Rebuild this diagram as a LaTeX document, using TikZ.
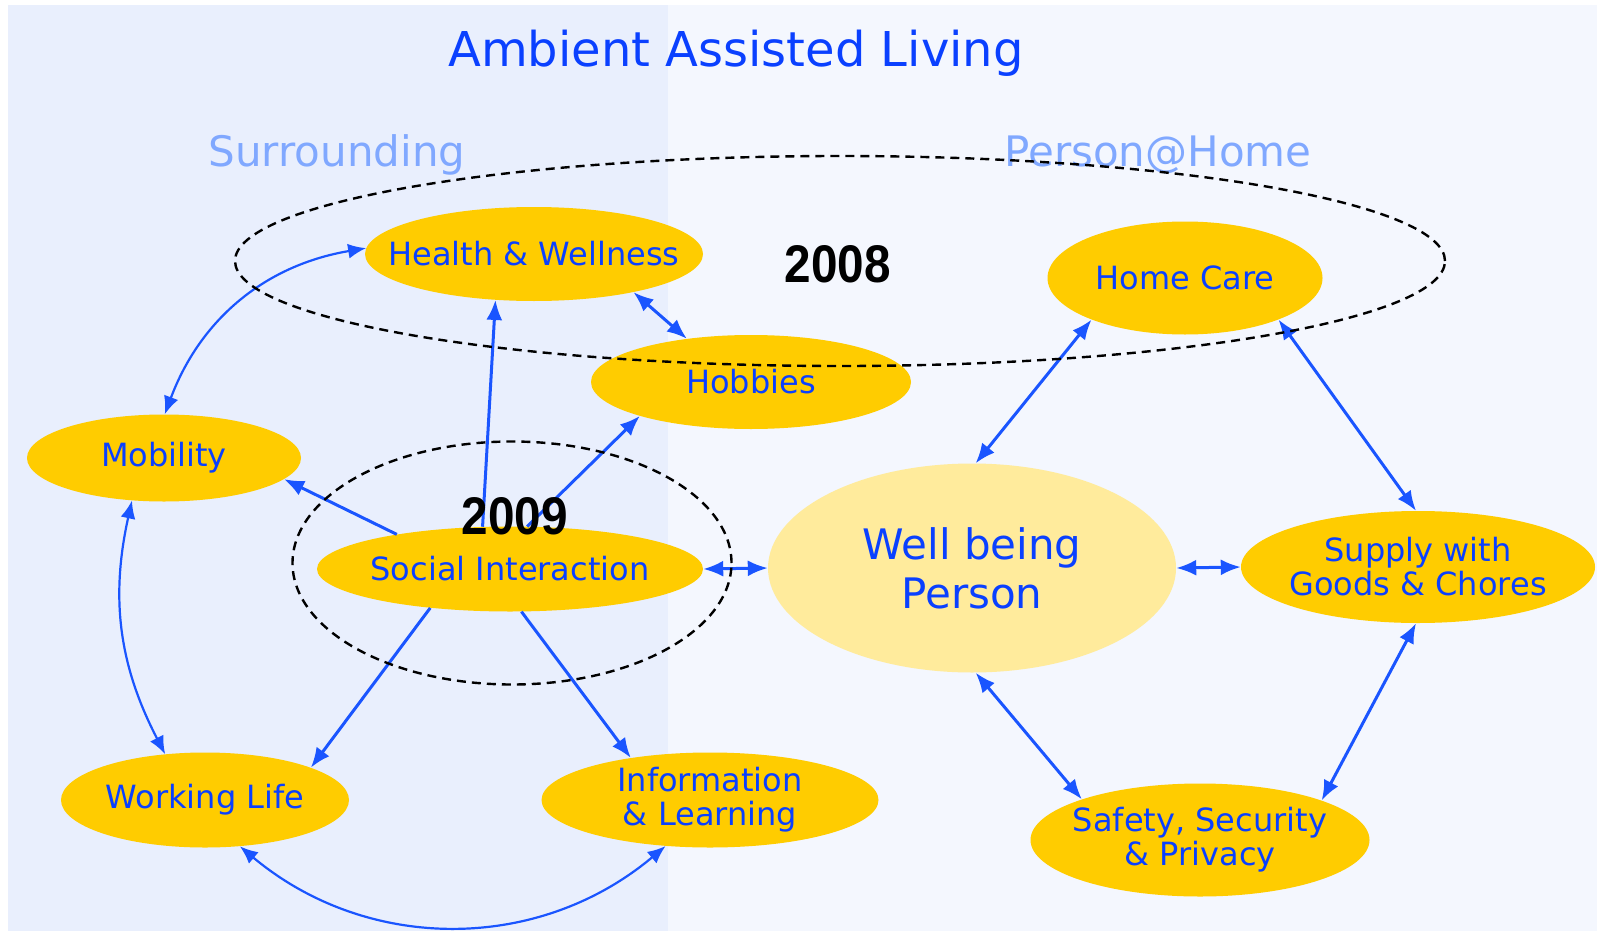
\documentclass[tikz,border=0pt]{standalone}
\usepackage{fontspec}
\setmainfont{DejaVu Sans}
\newfontfamily\yearfont{Liberation Sans}
\usetikzlibrary{shapes.geometric,arrows.meta}
\definecolor{leftbg}{HTML}{E9EFFD}
\definecolor{rightbg}{HTML}{F4F7FE}
\definecolor{nodeyellow}{HTML}{FFCC00}
\definecolor{lightyellow}{HTML}{FFEB9C}
\definecolor{textblue}{HTML}{0A40FF}
\definecolor{subblue}{HTML}{80A8FF}
\definecolor{arrowblue}{HTML}{1A55FF}
\begin{document}
\begin{tikzpicture}[x=1pt,y=-1pt,
  yel/.style={ellipse, fill=nodeyellow, draw=none, inner sep=0pt},
  txt/.style={text=textblue, font=\fontsize{32}{34}\selectfont, align=center, inner sep=0pt},
  conn/.style={draw=arrowblue, line width=3pt},
  both/.style={conn, {Latex[length=20pt,width=16pt]}-{Latex[length=20pt,width=16pt]}},
  one/.style={conn, -{Latex[length=20pt,width=16pt]}},
  curv/.style={draw=arrowblue, line width=2.2pt, {Latex[length=18pt,width=15pt]}-{Latex[length=18pt,width=15pt]}},
  dash08/.style={draw=black, line width=2.4pt, dash pattern=on 9pt off 6pt, ellipse, inner sep=0pt}
]
\useasboundingbox (0,0) rectangle (1597,931);
\fill[white] (0,0) rectangle (1597,931);
\fill[leftbg] (8,5) rectangle (668,931);
\fill[rightbg] (668,5) rectangle (1597,931);

% titles
\node[text=textblue, font=\fontsize{48}{56}\selectfont, anchor=base] (title) at (736,67) {Ambient Assisted Living};
\node[text=subblue, font=\fontsize{42}{50}\selectfont, anchor=base] (surr) at (337,166) {Surrounding};
\node[text=subblue, font=\fontsize{42}{50}\selectfont, anchor=base] (phome) at (1158,166) {Person@Home};

% nodes
\node[yel, minimum width=338pt, minimum height=94pt] (hw) at (534,254) {};
\node[yel, minimum width=320pt, minimum height=94pt] (hob) at (751,382) {};
\node[yel, minimum width=274pt, minimum height=87pt] (mob) at (164,458) {};
\node[yel, minimum width=386pt, minimum height=85pt] (si) at (510,569) {};
\node[yel, minimum width=288pt, minimum height=95pt] (wl) at (205,800) {};
\node[yel, minimum width=337pt, minimum height=95pt] (il) at (710,800) {};
\node[yel, minimum width=275pt, minimum height=113pt] (hc) at (1185,278) {};
\node[ellipse, fill=lightyellow, inner sep=0pt, minimum width=408pt, minimum height=209pt] (wb) at (972,568) {};
\node[yel, minimum width=354pt, minimum height=112pt] (sup) at (1418,567) {};
\node[yel, minimum width=339pt, minimum height=113pt] (saf) at (1200,840) {};

\node[txt] (hwt) at (hw) {Health \& Wellness};
\node[txt] (hobt) at (hob) {Hobbies};
\node[txt] (mobt) at (mob) {Mobility};
\node[txt] (sit) at (si) {Social Interaction};
\node[txt] (wlt) at (wl) {Working Life};
\node[txt] (ilt) at (il) {Information\\\& Learning};
\node[txt] (hct) at (hc) {Home Care};
\node[txt, font=\fontsize{42}{49}\selectfont] (wbt) at (wb) {Well being\\Person};
\node[txt] (supt) at (sup) {Supply with\\Goods \& Chores};
\node[txt] (saft) at (saf) {Safety, Security\\\& Privacy};

% connectors
\draw[curv] (mob.89) to[bend left=30] (hw.178);
\draw[curv] (mob.233) to[bend right=20] (wl.131);
\draw[curv] (wl.307) to[bend right=40] (il.226);
\draw[one] (si.163) -- (mob.350);
\draw[one] (si.123) -- (hw.230);
\draw[one] (si.68) -- (hob.197);
\draw[both] (hw.339) -- (hob.146);
\draw[one] (si.206) -- (wl.17);
\draw[one] (si.285) -- (il.152);
\draw[both] (si.east) -- (wb.west);
\draw[both] (wb.88) -- (hc.204);
\draw[both] (hc.336) -- (sup.92);
\draw[both] (wb.east) -- (sup.west);
\draw[both] (sup.268) -- (saf.18);
\draw[both] (wb.272) -- (saf.161);

% dashed groups
\node[dash08, minimum width=1210pt, minimum height=210pt] (g2008) at (840,261) {};
\node[dash08, minimum width=439pt, minimum height=243pt] (g2009) at (512,563) {};

\node[font=\yearfont\bfseries\fontsize{53}{60}\selectfont] (y2008) at (838,264) {\scalebox{0.9}[1]{2008}};
\node[font=\yearfont\bfseries\fontsize{53}{60}\selectfont] (y2009) at (515,516) {\scalebox{0.9}[1]{2009}};
\end{tikzpicture}
\end{document}
